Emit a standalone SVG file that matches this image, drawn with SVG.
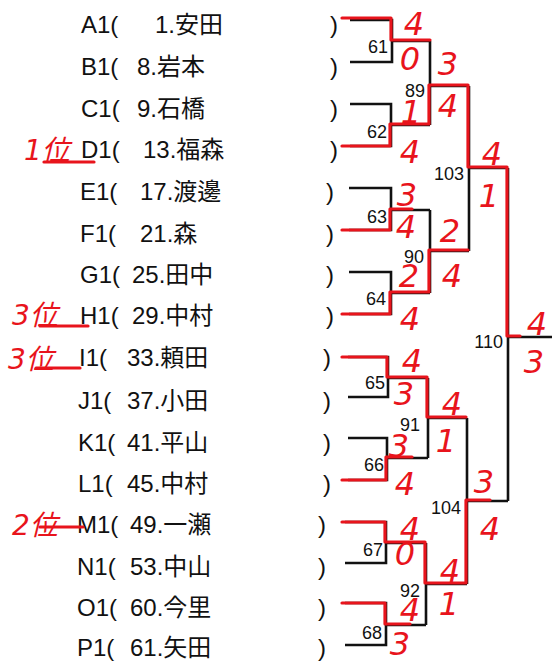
<svg xmlns="http://www.w3.org/2000/svg" width="552" height="663" viewBox="0 0 552 663">
<style>
.t{font-family:"Liberation Sans","Noto Sans CJK JP",sans-serif;font-size:24px;fill:#111}
.n{font-family:"Liberation Sans",Arial,sans-serif;font-size:18px;fill:#111;text-anchor:end}
.s{font-family:"DejaVu Sans",sans-serif;font-style:oblique;font-size:32px;fill:#e8141c;text-anchor:middle}
.r{font-family:"DejaVu Sans","Noto Sans CJK JP",sans-serif;font-style:oblique;font-size:28px;fill:#e8141c}
.b{fill:none;stroke:#111;stroke-width:2.6}
.w{fill:none;stroke:#e8141c;stroke-width:3.2;stroke-linecap:round;stroke-linejoin:round}
</style>
<rect width="552" height="663" fill="#fff"/>
<g id="connectors">
<path class="b" d="M350,20H392V62H350M392,41H430M350,104H391V146H350M391,125H430M430,41V125M430,86H469M349,188H391V230H349M391,210H430M349,272H391V314H349M391,293H430M430,210V293M430,251H469M469,86V251M469,168H508M508,168V501M508,337H552M348,357H388V397H348M388,378H428M348,438H387V480H348M387,458H428M428,378V458M428,418H467M345,522H386V563H345M386,543H426M345,603H386V645H345M386,625H426M426,543V625M426,584H467M467,418V584M467,501H508"/>
<path class="w" d="M342,18H391V40H430"/>
<path class="w" d="M342,146H390V124H429V85H468V167H507V336H520"/>
<path class="w" d="M342,230H390V209H412"/>
<path class="w" d="M342,314H390V292H429V250H468"/>
<path class="w" d="M342,357H387V377H427V417H466"/>
<path class="w" d="M342,480H386V457H412"/>
<path class="w" d="M342,522H385V542H425V583H466V500H490"/>
<path class="w" d="M342,603H385V624H410"/>
</g>
<g id="rows">
<g id="A1"><text class="t" x="81" y="33">A1(</text><text class="t" x="155" y="33">1.安田</text><text class="t" x="330" y="33">)</text></g>
<g id="B1"><text class="t" x="81" y="75">B1(</text><text class="t" x="137" y="75">8.岩本</text><text class="t" x="330" y="75">)</text></g>
<g id="C1"><text class="t" x="81" y="117">C1(</text><text class="t" x="137" y="117">9.石橋</text><text class="t" x="330" y="117">)</text></g>
<g id="D1"><text class="t" x="81" y="158">D1(</text><text class="t" x="143" y="158">13.福森</text><text class="t" x="330" y="158">)</text></g>
<g id="E1"><text class="t" x="80" y="200">E1(</text><text class="t" x="140" y="200">17.渡邊</text><text class="t" x="326" y="200">)</text></g>
<g id="F1"><text class="t" x="80" y="242">F1(</text><text class="t" x="140" y="242">21.森</text><text class="t" x="326" y="242">)</text></g>
<g id="G1"><text class="t" x="80" y="283">G1(</text><text class="t" x="132" y="283">25.田中</text><text class="t" x="326" y="283">)</text></g>
<g id="H1"><text class="t" x="80" y="324">H1(</text><text class="t" x="132" y="324">29.中村</text><text class="t" x="326" y="324">)</text></g>
<g id="I1"><text class="t" x="79" y="366">I1(</text><text class="t" x="127" y="366">33.頼田</text><text class="t" x="323" y="366">)</text></g>
<g id="J1"><text class="t" x="78" y="409">J1(</text><text class="t" x="127" y="409">37.小田</text><text class="t" x="323" y="409">)</text></g>
<g id="K1"><text class="t" x="78" y="451">K1(</text><text class="t" x="127" y="451">41.平山</text><text class="t" x="323" y="451">)</text></g>
<g id="L1"><text class="t" x="78" y="492">L1(</text><text class="t" x="127" y="492">45.中村</text><text class="t" x="323" y="492">)</text></g>
<g id="M1"><text class="t" x="77" y="533">M1(</text><text class="t" x="130" y="533">49.一瀬</text><text class="t" x="318" y="533">)</text></g>
<g id="N1"><text class="t" x="77" y="575">N1(</text><text class="t" x="130" y="575">53.中山</text><text class="t" x="318" y="575">)</text></g>
<g id="O1"><text class="t" x="77" y="616">O1(</text><text class="t" x="130" y="616">60.今里</text><text class="t" x="318" y="616">)</text></g>
<g id="P1"><text class="t" x="77" y="656">P1(</text><text class="t" x="130" y="656">61.矢田</text><text class="t" x="318" y="656">)</text></g>
</g>
<g id="ranks">
<g id="rank1"><text class="r" x="24" y="160">1位</text><path class="w" d="M44,162H94"/></g>
<g id="rank3a"><text class="r" x="12" y="325">3位</text><path class="w" d="M40,326H88"/></g>
<g id="rank3b"><text class="r" x="8" y="369">3位</text><path class="w" d="M36,368H80"/></g>
<g id="rank2"><text class="r" x="12" y="535">2位</text><path class="w" d="M40,527H83"/></g>
</g>
<g id="m61"><text class="n" x="388" y="53">61</text><text class="s" x="414" y="35">4</text><text class="s" x="410" y="70" font-size="23">0</text></g>
<g id="m62"><text class="n" x="387" y="138">62</text><text class="s" x="411" y="123" font-size="25">1</text><text class="s" x="410" y="163">4</text></g>
<g id="m89"><text class="n" x="425" y="97">89</text><text class="s" x="448" y="75" font-size="28">3</text><text class="s" x="448" y="117">4</text></g>
<g id="m103"><text class="n" x="464" y="180">103</text><text class="s" x="492" y="165">4</text><text class="s" x="489" y="207" font-size="30">1</text></g>
<g id="m63"><text class="n" x="387" y="223">63</text><text class="s" x="407" y="206" font-size="27">3</text><text class="s" x="406" y="238" font-size="29">4</text></g>
<g id="m90"><text class="n" x="424" y="263">90</text><text class="s" x="450" y="242" font-size="28">2</text><text class="s" x="452" y="287">4</text></g>
<g id="m64"><text class="n" x="386" y="305">64</text><text class="s" x="409" y="287" font-size="21">2</text><text class="s" x="410" y="330">4</text></g>
<g id="m110"><text class="n" x="503" y="348">110</text><text class="s" x="537" y="335">4</text><text class="s" x="534" y="373" font-size="27">3</text></g>
<g id="m65"><text class="n" x="385" y="389">65</text><text class="s" x="412" y="372">4</text><text class="s" x="404" y="405" font-size="30">3</text></g>
<g id="m91"><text class="n" x="420" y="431">91</text><text class="s" x="452" y="415">4</text><text class="s" x="446" y="452" font-size="30">1</text></g>
<g id="m66"><text class="n" x="384" y="471">66</text><text class="s" x="399" y="457" font-size="30">3</text><text class="s" x="405" y="495">4</text></g>
<g id="m104"><text class="n" x="461" y="514">104</text><text class="s" x="484" y="493" font-size="28">3</text><text class="s" x="490" y="540">4</text></g>
<g id="m67"><text class="n" x="383" y="556">67</text><text class="s" x="410" y="540">4</text><text class="s" x="405" y="565" font-size="20">0</text></g>
<g id="m92"><text class="n" x="420" y="597">92</text><text class="s" x="450" y="582">4</text><text class="s" x="449" y="615" font-size="28">1</text></g>
<g id="m68"><text class="n" x="382" y="639">68</text><text class="s" x="410" y="621" font-size="29">4</text><text class="s" x="400" y="655" font-size="29">3</text></g>
</svg>
